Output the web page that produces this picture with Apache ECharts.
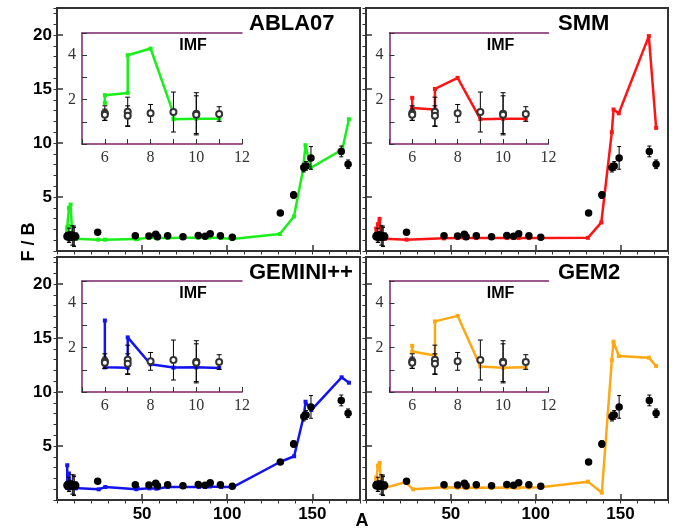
<!DOCTYPE html>
<html>
<head>
<meta charset="utf-8">
<script src="https://cdn.jsdelivr.net/npm/echarts@6/dist/echarts.min.js"></script>
<style>
  html, body { margin: 0; padding: 0; background: #fff; }
  #chart { width: 675px; height: 528px; }
</style>
</head>
<body>
<div id="chart"></div>
<script>
// panel names and line colours
const panelNames = ['ABLA07', 'SMM', 'GEMINI++', 'GEM2'];
const panelColors = ['#19f019', '#ff1414', '#1414f0', '#ffa814'];

// measured IMF (open circles in the insets, black dots at low A)
const imfA = [6, 6, 7, 7, 8, 9, 10, 10, 11];
const imfF = [1.39, 1.32, 1.45, 1.27, 1.38, 1.44, 1.36, 1.32, 1.35];
const imfErr = [0.33, 0.25, 0.66, 0.45, 0.4, 0.9, 0.95, 0.85, 0.33];

// measured heavier fragments
const expA = [23.9, 46, 54, 58, 59, 65, 74, 83, 87, 90, 96, 103, 131.2, 139, 145, 146.3, 149.2, 167, 171];
const expF = [1.73, 1.42, 1.38, 1.56, 1.33, 1.42, 1.33, 1.44, 1.36, 1.6, 1.42, 1.27, 3.51, 5.19, 7.72, 7.88, 8.62, 9.22, 8.03];
const expErr = [0, 0, 0, 0, 0, 0, 0, 0, 0, 0, 0, 0, 0.1, 0.3, 0.4, 0.4, 1.05, 0.5, 0.4];

// ABLA07
const ablaImfA = [6, 6, 7, 7, 8, 9, 9, 10, 11];
const ablaImfF = [1.85, 2.2, 2.3, 4.0, 4.3, 1.38, 1.12, 1.14, 1.14];
const ablaA = [24.3, 28.2, 46.5, 47.3, 54, 58, 59, 65, 74.5, 83, 87, 89.5, 96.3, 103, 130.9, 139.2, 144.5, 146, 149, 167.6, 171.5];
const ablaF = [1.05, 1.05, 1.1, 1.1, 1.22, 1.22, 1.18, 1.2, 1.22, 1.22, 1.22, 1.25, 1.2, 1.12, 1.57, 3.2, 7.5, 9.8, 7.7, 9.4, 12.2];

// SMM
const smmImfA = [6, 6, 7, 7, 8, 9, 10, 11];
const smmImfF = [2.08, 1.62, 1.55, 2.48, 2.98, 1.12, 1.14, 1.14];
const smmA = [23.9, 45.9, 54, 58.2, 59.5, 65, 74, 83, 87, 90, 96, 103, 130.8, 138.7, 144.9, 145.9, 149, 166.7, 171];
const smmF = [1.05, 1.17, 1.2, 1.2, 1.2, 1.2, 1.2, 1.2, 1.2, 1.2, 1.2, 1.2, 1.22, 2.65, 11.0, 13.1, 12.75, 19.9, 11.4];

// GEMINI++
const gemImfA = [6, 6, 7, 7, 8, 9, 10, 11];
const gemImfF = [3.22, 1.11, 1.09, 2.46, 1.25, 1.1, 1.11, 1.08];
const gemA = [24.5, 28.4, 46.6, 47.4, 54.3, 58.4, 59.5, 65.1, 74.5, 83.3, 87.2, 89.8, 96.5, 103.3, 131, 139.3, 145.1, 146, 149.4, 167.2, 171.5];
const gemF = [0.99, 1.2, 1.0, 1.1, 1.08, 1.05, 1.1, 1.2, 1.2, 1.2, 1.2, 1.25, 1.2, 1.2, 3.52, 4.05, 7.87, 9.1, 8.33, 11.36, 10.86];

// GEM2
const gem2ImfA = [6, 6, 7, 7, 8, 9, 10, 11];
const gem2ImfF = [2.08, 1.82, 1.64, 3.18, 3.43, 1.15, 1.09, 1.12];
const gem2A = [23.3, 27.8, 46.5, 47.3, 53.9, 58.3, 59.5, 65, 74, 83, 87.8, 90, 96, 103, 130.8, 139, 144.9, 145.9, 149, 166.7, 171];
const gem2F = [1.64, 0.99, 1.18, 1.15, 1.14, 1.14, 1.14, 1.16, 1.14, 1.16, 1.14, 1.16, 1.16, 1.18, 1.7, 0.68, 12.96, 14.66, 13.33, 13.18, 12.4];

const modelImfA = [ablaImfA, smmImfA, gemImfA, gem2ImfA];
const modelImfF = [ablaImfF, smmImfF, gemImfF, gem2ImfF];
const modelA = [ablaA, smmA, gemA, gem2A];
const modelF = [ablaF, smmF, gemF, gem2F];

const zip = (xs, ys, es) => xs.map((x, i) => es ? [x, ys[i], es[i]] : [x, ys[i]]);

const mainGrids = [
  { left: 57, top: 8, width: 303, height: 243 },
  { left: 366, top: 8, width: 302, height: 243 },
  { left: 57, top: 257, width: 303, height: 243 },
  { left: 366, top: 257, width: 302, height: 243 },
];
const insetGrids = [
  { left: 82, top: 33, width: 160, height: 111 },
  { left: 389.5, top: 33, width: 159, height: 111 },
  { left: 82, top: 281, width: 160, height: 111 },
  { left: 389.5, top: 281, width: 159, height: 111 },
];

const frame = '#333';
const insetFrame = '#7b2466';
const boldFont = { fontFamily: 'Liberation Sans', fontWeight: 'bold', color: '#000' };

function errorBars(cap) {
  return function (params, api) {
    const x = api.value(0);
    const y = api.value(1);
    const e = api.value(2);
    if (!e) return null;
    const hi = api.coord([x, y + e]);
    const lo = api.coord([x, y - e]);
    const style = { stroke: '#000', lineWidth: 1 };
    return {
      type: 'group',
      children: [
        { type: 'line', shape: { x1: hi[0], y1: hi[1], x2: lo[0], y2: lo[1] }, style },
        { type: 'line', shape: { x1: hi[0] - cap, y1: hi[1], x2: hi[0] + cap, y2: hi[1] }, style },
        { type: 'line', shape: { x1: lo[0] - cap, y1: lo[1], x2: lo[0] + cap, y2: lo[1] }, style },
      ],
    };
  };
}

const grid = [];
const xAxis = [];
const yAxis = [];
const series = [];
const graphic = [];

mainGrids.forEach((g, p) => {
  grid.push({ ...g, show: true, borderColor: frame, borderWidth: 2, backgroundColor: 'transparent' });
  const bottomRow = p >= 2;
  const leftCol = p % 2 === 0;
  // major x
  xAxis.push({
    type: 'value', gridIndex: p, min: 0, max: 178, interval: 50,
    axisLine: { show: false },
    splitLine: { show: false },
    axisTick: { inside: true, length: 6, lineStyle: { color: frame, width: 1.5 } },
    axisLabel: {
      show: bottomRow, margin: 6, fontSize: 17, ...boldFont,
      formatter: v => (v > 0 && v % 50 === 0 ? String(v) : ''),
    },
  });
  // minor x
  xAxis.push({
    type: 'value', gridIndex: p, min: 0, max: 178, interval: 10,
    axisLine: { show: false }, splitLine: { show: false }, axisLabel: { show: false },
    axisTick: { inside: true, length: 3.5, lineStyle: { color: frame, width: 1 } },
  });
  yAxis.push({
    type: 'value', gridIndex: p, min: 0, max: 22.5, interval: 5,
    axisLine: { show: false },
    splitLine: { show: false },
    axisTick: { inside: true, length: 6, lineStyle: { color: frame, width: 1.5 } },
    axisLabel: {
      show: leftCol, margin: 5, fontSize: 17, ...boldFont,
      formatter: v => (v > 0 && v % 5 === 0 ? String(v) : ''),
    },
  });
  yAxis.push({
    type: 'value', gridIndex: p, min: 0, max: 22.5, interval: 1,
    axisLine: { show: false }, splitLine: { show: false }, axisLabel: { show: false },
    axisTick: { inside: true, length: 3.5, lineStyle: { color: frame, width: 1 } },
  });

  const color = panelColors[p];
  const fullLine = zip(modelImfA[p], modelImfF[p]).concat(zip(modelA[p], modelF[p]));
  series.push({
    type: 'line', xAxisIndex: 2 * p, yAxisIndex: 2 * p, data: fullLine,
    symbol: 'rect', symbolSize: 4, showSymbol: true,
    lineStyle: { color, width: 2.5 }, itemStyle: { color },
    z: 2, animation: false,
  });
  series.push({
    type: 'custom', xAxisIndex: 2 * p, yAxisIndex: 2 * p,
    data: zip(imfA, imfF, imfErr).concat(zip(expA, expF, expErr)),
    renderItem: errorBars(2), z: 3, animation: false,
  });
  series.push({
    type: 'scatter', xAxisIndex: 2 * p, yAxisIndex: 2 * p,
    data: zip(imfA, imfF).concat(zip(expA, expF)),
    symbol: 'circle', symbolSize: 7.5, itemStyle: { color: '#000', opacity: 1 },
    z: 4, animation: false,
  });

  graphic.push({
    type: 'text', x: g.left + 192, y: g.top + 16,
    style: { text: panelNames[p], font: 'bold 22px "Liberation Sans"', fill: '#000', textAlign: 'left', textVerticalAlign: 'middle' },
  });
});

insetGrids.forEach((g, p) => {
  const gi = 4 + p;
  grid.push({ ...g, show: false });
  xAxis.push({
    type: 'value', gridIndex: gi, min: 5, max: 12, interval: 1,
    axisLine: { show: true, lineStyle: { color: insetFrame, width: 1.5 } },
    splitLine: { show: false },
    axisTick: { inside: true, length: 5, lineStyle: { color: '#333', width: 1 } },
    axisLabel: {
      margin: 6, fontSize: 16, fontFamily: 'Liberation Serif', color: '#333',
      formatter: v => (v % 2 === 0 ? String(v) : ''),
    },
  });
  xAxis.push({
    type: 'value', gridIndex: gi, position: 'top', min: 5, max: 12,
    axisLine: { show: true, lineStyle: { color: insetFrame, width: 1.5 } },
    splitLine: { show: false }, axisTick: { show: false }, axisLabel: { show: false },
  });
  yAxis.push({
    type: 'value', gridIndex: gi, min: 0, max: 5, interval: 1,
    axisLine: { show: true, lineStyle: { color: insetFrame, width: 1.5 } },
    splitLine: { show: false },
    axisTick: { inside: true, length: 5, lineStyle: { color: '#333', width: 1 } },
    axisLabel: {
      margin: 6, fontSize: 16, fontFamily: 'Liberation Serif', color: '#333',
      formatter: v => (v > 0 && v % 2 === 0 ? String(v) : ''),
    },
  });

  const color = panelColors[p];
  series.push({
    type: 'line', xAxisIndex: 8 + 2 * p, yAxisIndex: 8 + p,
    data: zip(modelImfA[p], modelImfF[p]),
    symbol: 'rect', symbolSize: 4, showSymbol: true,
    lineStyle: { color, width: 2.5 }, itemStyle: { color },
    z: 2, animation: false,
  });
  series.push({
    type: 'custom', xAxisIndex: 8 + 2 * p, yAxisIndex: 8 + p,
    data: zip(imfA, imfF, imfErr),
    renderItem: errorBars(2.5), z: 3, animation: false,
  });
  series.push({
    type: 'scatter', xAxisIndex: 8 + 2 * p, yAxisIndex: 8 + p,
    data: zip(imfA, imfF),
    symbol: 'emptyCircle', symbolSize: 6,
    itemStyle: { color: '#333', borderColor: '#333', borderWidth: 1, opacity: 1 },
    z: 4, animation: false,
  });

  graphic.push({
    type: 'text', x: g.left + 111, y: g.top + 13,
    style: { text: 'IMF', font: 'bold 16px "Liberation Sans"', fill: '#000', textAlign: 'center', textVerticalAlign: 'middle' },
  });
});

graphic.push({
  type: 'text', x: 29, y: 242, rotation: Math.PI / 2,
  style: { text: 'F / B', font: 'bold 18px "Liberation Sans"', fill: '#000', textAlign: 'center', textVerticalAlign: 'middle' },
});
graphic.push({
  type: 'text', x: 362, y: 521,
  style: { text: 'A', font: 'bold 18px "Liberation Sans"', fill: '#000', textAlign: 'center', textVerticalAlign: 'middle' },
});

const chart = echarts.init(document.getElementById('chart'), null, { renderer: 'canvas' });
chart.setOption({
  animation: false,
  backgroundColor: '#fff',
  grid,
  xAxis,
  yAxis,
  series,
  graphic,
});
</script>
</body>
</html>
